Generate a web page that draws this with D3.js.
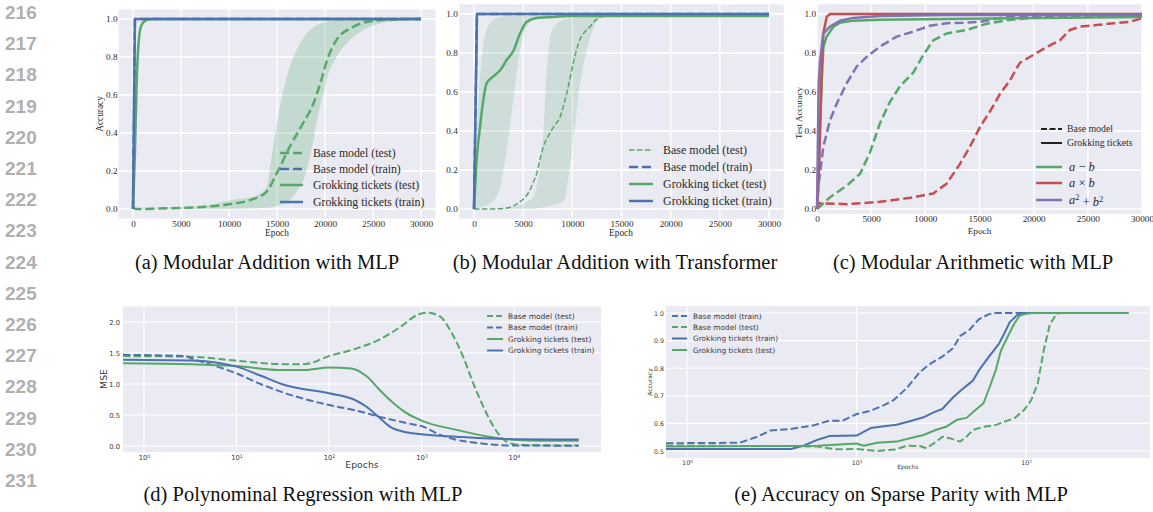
<!DOCTYPE html>
<html><head><meta charset="utf-8">
<script src="https://cdn.jsdelivr.net/npm/d3@7"></script>
<style>
body{margin:0;background:#fff;}
svg{display:block;}
</style></head><body>
<script>
// ---------- (a) Modular Addition with MLP : [epoch, accuracy] ----------
const aBaseTest = [[0,0.01],[300,0.0],[2500,0.002],[5000,0.006],[7500,0.012],[10000,0.025],[12200,0.047],[13900,0.09],[15000,0.19],[16350,0.33],[17700,0.45],[18800,0.556],[19500,0.66],[20200,0.78],[21200,0.89],[23000,0.96],[25000,0.99],[27500,0.998],[30000,1.0]];
// [epoch, low, high]
const aBaseTestBand = [[0,0,0.005],[7000,0,0.015],[10000,0,0.045],[12000,0.002,0.06],[13000,0.004,0.075],[13900,0.007,0.115],[14600,0.01,0.33],[15300,0.02,0.54],[16350,0.047,0.75],[17400,0.12,0.87],[17740,0.15,0.9],[18440,0.28,0.94],[18780,0.36,0.955],[19470,0.54,0.975],[19830,0.6,0.98],[20170,0.68,0.985],[21210,0.8,0.993],[22600,0.89,0.997],[24330,0.95,1.0],[26060,0.98,1.0],[28500,0.995,1.0],[30000,1.0,1.0]];
const aBaseTrain = [[0,0],[200,1.0],[30000,1.0]];
const aTicketTest = [[0,0],[200,0.3],[380,0.66],[625,0.9],[900,0.97],[1400,0.995],[2000,1.0],[30000,1.0]];
const aTicketTrain = [[0,0],[200,1.0],[30000,1.0]];

// ---------- (b) Modular Addition with Transformer ----------
const bBaseTest = [[0,0],[1500,0.0],[3000,0.003],[4000,0.015],[4680,0.037],[5200,0.06],[5690,0.097],[6050,0.14],[6370,0.18],[6700,0.25],[7050,0.32],[7400,0.36],[7730,0.39],[8200,0.43],[8740,0.47],[9100,0.53],[9420,0.59],[9800,0.68],[10100,0.75],[10450,0.82],[10780,0.87],[11300,0.91],[11800,0.935],[12300,0.965],[12820,0.985],[14000,0.99],[30000,0.99]];
const bBaseTestBand = [[0,0,0],[3000,0,0.003],[4680,0,0.02],[6030,0,0.063],[6370,0.003,0.12],[6710,0.006,0.217],[7050,0.01,0.388],[7320,0.012,0.644],[7660,0.015,0.85],[8070,0.02,0.93],[9080,0.04,0.97],[9760,0.217,0.98],[10170,0.39,0.985],[10780,0.64,0.988],[11460,0.81,0.99],[12140,0.93,0.99],[12990,0.985,0.99],[14000,0.99,0.99],[30000,0.99,0.99]];
const bBaseTrain = [[0,0],[300,1.0],[30000,1.0]];
const bTicketTest = [[0,0],[270,0.25],[610,0.42],[950,0.56],[1290,0.645],[1970,0.68],[2640,0.71],[3320,0.764],[4000,0.81],[4680,0.9],[5360,0.96],[6370,0.98],[8070,0.985],[9760,0.99],[30000,0.99]];
const bTicketTestBand = [[0,0,0],[100,0,0.05],[400,0.005,0.5],[750,0.01,0.76],[1080,0.015,0.88],[1290,0.02,0.92],[2270,0.06,0.98],[2640,0.11,0.985],[3320,0.3,0.99],[4000,0.56,0.99],[4680,0.815,0.99],[5360,0.935,0.99],[6370,0.98,0.99],[8070,0.99,0.99],[30000,0.99,0.99]];
const bTicketTrain = [[0,0],[300,1.0],[30000,1.0]];

// ---------- (c) Modular Arithmetic with MLP : test accuracy ----------
const cSubBase = [[0,0],[1200,0.06],[2740,0.12],[3970,0.18],[4890,0.29],[5810,0.44],[6740,0.55],[7660,0.63],[8890,0.7],[9810,0.79],[10730,0.865],[11960,0.9],[13800,0.918],[15650,0.95],[17500,0.968],[19650,0.98],[22730,0.985],[30000,0.988]];
const cMulBase = [[0,0],[150,0.03],[277,0.03],[2740,0.025],[5810,0.037],[8890,0.06],[10730,0.08],[11960,0.13],[13190,0.23],[14120,0.32],[15040,0.42],[15960,0.5],[16890,0.59],[17810,0.66],[18730,0.75],[19960,0.79],[21190,0.83],[22420,0.865],[23340,0.918],[24260,0.935],[25800,0.943],[27340,0.952],[28880,0.96],[30000,0.978]];
const cSqBase = [[0,0],[150,0.13],[277,0.18],[585,0.32],[1200,0.455],[1820,0.54],[2740,0.645],[3660,0.73],[4580,0.78],[5810,0.833],[7350,0.884],[8890,0.91],[10430,0.94],[11960,0.953],[13500,0.955],[15040,0.96],[16580,0.977],[18120,0.99],[30000,0.99]];
const cSubTicket = [[0,0],[150,0.2],[277,0.42],[430,0.64],[585,0.83],[893,0.885],[1510,0.935],[2120,0.955],[3350,0.966],[5810,0.97],[11960,0.975],[18120,0.978],[30000,0.985]];
const cMulTicket = [[0,0],[150,0.15],[277,0.39],[430,0.73],[585,0.9],[893,0.985],[1200,1.0],[30000,1.0]];
const cSqTicket = [[0,0],[150,0.64],[277,0.76],[585,0.9],[1200,0.935],[2120,0.965],[3350,0.98],[5810,0.99],[11960,0.995],[30000,0.995]];

// ---------- (d) Polynomial regression : [epoch, MSE] ----------
const dBaseTest = [[0,1.45],[3.16,1.44],[10,1.376],[31.6,1.32],[54,1.32],[100,1.45],[200,1.575],[355,1.72],[590,1.92],[890,2.11],[1150,2.15],[1585,2.09],[2040,1.87],[2820,1.44],[3630,1.01],[4680,0.63],[6030,0.31],[7760,0.1],[10000,0.03],[12600,0.015],[20000,0.01],[50000,0.01]];
const dBaseTrain = [[0,1.47],[2.8,1.45],[3.16,1.42],[6.2,1.28],[10,1.17],[17.5,1.01],[34,0.85],[100,0.66],[200,0.57],[355,0.47],[690,0.37],[1050,0.31],[1480,0.2],[2400,0.1],[4000,0.05],[8300,0.01],[50000,0.005]];
const dTicketTest = [[0,1.335],[3.16,1.32],[10,1.29],[31.6,1.225],[54,1.225],[100,1.265],[174,1.25],[257,1.12],[355,0.9],[500,0.69],[690,0.53],[1000,0.41],[2400,0.26],[5400,0.15],[10000,0.1],[20000,0.085],[50000,0.085]];
const dTicketTrain = [[0,1.39],[3.16,1.38],[10,1.28],[17.5,1.145],[34,0.98],[100,0.85],[186,0.75],[257,0.63],[355,0.45],[460,0.31],[640,0.23],[1000,0.19],[2400,0.15],[5400,0.12],[10000,0.11],[50000,0.105]];

// ---------- (e) Sparse parity : [epoch, accuracy] ----------
const eBaseTrain = [[0,0.528],[2.05,0.53],[2.6,0.552],[3.1,0.574],[4.1,0.58],[5.5,0.592],[6.9,0.61],[8.3,0.61],[10,0.634],[12.1,0.646],[14.5,0.666],[16.5,0.684],[19.6,0.726],[23.6,0.786],[27,0.815],[32,0.842],[37,0.872],[40.7,0.916],[46.5,0.94],[52.5,0.977],[60,0.995],[66,1.0],[400,1.0]];
const eBaseTest = [[0,0.519],[4.4,0.518],[5.9,0.516],[7.6,0.506],[10,0.507],[13.2,0.5],[17.2,0.506],[19.6,0.519],[23.6,0.518],[25.8,0.51],[29.5,0.534],[32,0.552],[35.5,0.546],[40.7,0.534],[44.5,0.552],[48.5,0.576],[56,0.588],[66,0.594],[74,0.606],[85,0.618],[97,0.648],[107,0.684],[117,0.745],[127,0.866],[138,0.96],[151,0.997],[160,1.0],[400,1.0]];
const eTicketTrain = [[0,0.507],[4.1,0.507],[4.9,0.52],[5.9,0.541],[6.9,0.554],[10,0.556],[12.1,0.583],[14.5,0.59],[17.2,0.595],[20.6,0.608],[24.8,0.622],[28.4,0.64],[32,0.652],[37,0.694],[42.6,0.727],[48.5,0.755],[52.5,0.791],[60,0.84],[69,0.888],[74,0.924],[80,0.967],[88,0.991],[97,1.0],[400,1.0]];
const eTicketTest = [[0,0.516],[5.9,0.519],[10,0.527],[11,0.519],[13.2,0.53],[17.2,0.534],[20.6,0.546],[24.8,0.558],[29.5,0.577],[34,0.589],[39,0.613],[44.5,0.62],[50,0.648],[56,0.673],[60,0.721],[66,0.791],[71,0.864],[77.6,0.913],[85,0.961],[91.6,0.991],[100,0.997],[110,1.0],[400,1.0]];

// ---------- tick values ----------
const linEpochTicks = [0,5000,10000,15000,20000,25000,30000];
const accTicks = [0,0.2,0.4,0.6,0.8,1.0];
const mseTicks = [0,0.5,1.0,1.5,2.0];
const logTicksD = [1,10,100,1000,10000];
const parityTicks = [0.5,0.6,0.7,0.8,0.9,1.0];
const logTicksE = [1,10,100];

// ---------- captions and page line numbers ----------
const captions = ["(a) Modular Addition with MLP","(b) Modular Addition with Transformer","(c) Modular Arithmetic with MLP","(d) Polynominal Regression with MLP","(e) Accuracy on Sparse Parity with MLP"];
const lineNumbers = d3.range(216,232);

const W = 1153, H = 512;
const svg = d3.select("body").append("svg").attr("width", W).attr("height", H);

const COL = {blue:"#4C72B0", green:"#55A868", red:"#C44E52", purple:"#8172B2"};
const BG = "#EAEAF2";
const SERIF = "'Liberation Serif','Times New Roman',serif";
const SANS = "'DejaVu Sans','Liberation Sans',sans-serif";

function supFmt(sel){
  sel.each(function(d){
    const t = d3.select(this);
    t.text("10");
    t.append("tspan").attr("dy","-0.45em").attr("font-size","70%").text(Math.round(Math.log10(d)));
  });
}

function drawFrame(g, x, y, o){
  const [x0,x1] = x.range(), [y0,y1] = y.range();
  g.append("rect").attr("x",x0).attr("y",y1).attr("width",x1-x0).attr("height",y0-y1).attr("fill",BG);
  g.append("g").selectAll("line").data(o.xTicks).join("line")
    .attr("x1",d=>x(d)).attr("x2",d=>x(d)).attr("y1",y1).attr("y2",y0)
    .attr("stroke","#fff").attr("stroke-width",o.gridW);
  g.append("g").selectAll("line").data(o.yTicks).join("line")
    .attr("y1",d=>y(d)).attr("y2",d=>y(d)).attr("x1",x0).attr("x2",x1)
    .attr("stroke","#fff").attr("stroke-width",o.gridW);
  const ax = g.append("g").attr("transform",`translate(0,${y0})`)
    .call(d3.axisBottom(x).tickValues(o.xTicks).tickSize(0).tickPadding(o.xPad).tickFormat(o.xFmt || (d=>d)));
  ax.select(".domain").remove();
  ax.selectAll("text").attr("font-family",o.font).attr("font-size",o.tick).attr("fill",o.tickColor);
  if (o.logX) ax.selectAll(".tick text").call(supFmt);
  const ay = g.append("g").attr("transform",`translate(${x0},0)`)
    .call(d3.axisLeft(y).tickValues(o.yTicks).tickSize(0).tickPadding(o.yPad).tickFormat(d3.format(".1f")));
  ay.select(".domain").remove();
  ay.selectAll("text").attr("font-family",o.font).attr("font-size",o.tick).attr("fill",o.tickColor);
  if (o.xLabel) g.append("text").attr("x",o.xLabel[1]).attr("y",o.xLabel[2]).attr("text-anchor","middle")
    .attr("font-family",o.font).attr("font-size",o.label).attr("fill",o.tickColor).text(o.xLabel[0]);
  if (o.yLabel) g.append("text").attr("transform",`translate(${o.yLabel[1]},${o.yLabel[2]}) rotate(-90)`).attr("text-anchor","middle")
    .attr("font-family",o.font).attr("font-size",o.label).attr("fill",o.tickColor).text(o.yLabel[0]);
}

function drawLine(g, x, y, data, s){
  const line = d3.line().x(d=>x(d[0])).y(d=>y(d[1])).curve(s.curve || d3.curveLinear);
  g.append("path").datum(data).attr("d",line).attr("fill","none")
    .attr("stroke",s.color).attr("stroke-width",s.lw)
    .attr("stroke-dasharray",s.dash ? s.dash.join(",") : null)
    .attr("stroke-linejoin","round");
}

function drawBand(g, x, y, data, color, op){
  const area = d3.area().x(d=>x(d[0])).y0(d=>y(d[1])).y1(d=>y(d[2])).curve(d3.curveMonotoneX);
  g.append("path").datum(data).attr("d",area).attr("fill",color).attr("fill-opacity",op).attr("stroke","none");
}

function drawLegend(g, items, o){
  items.forEach((it,i)=>{
    const yy = o.ys[i];
    g.append("line").attr("x1",o.hx0).attr("x2",o.hx1).attr("y1",yy).attr("y2",yy)
      .attr("stroke",it.color).attr("stroke-width",it.lw)
      .attr("stroke-dasharray",it.dash ? it.dash.join(",") : null);
    const t = g.append("text").attr("x",o.tx).attr("y",yy).attr("dy","0.35em")
      .attr("font-family",o.font).attr("font-size",it.size || o.size).attr("fill",o.color);
    if (Array.isArray(it.label)) {
      it.label.forEach(seg=>{
        const ts = t.append("tspan").text(seg.t);
        if (seg.it) ts.attr("font-style","italic");
        if (seg.sup) ts.attr("font-size","68%").attr("dy","-0.5em");
        if (seg.down) ts.attr("dy","0.5em");
      });
    } else t.text(it.label);
  });
}

const dashL = [9,4], dashS = [5.5,2.4], dashM = [7.4,3.2];

// ===== (a) =====
{
  const g = svg.append("g");
  const x = d3.scaleLinear().domain([-1500,31500]).range([118.6,435.4]);
  const y = d3.scaleLinear().domain([-0.05,1.05]).range([218.5,9.5]);
  drawFrame(g,x,y,{xTicks:linEpochTicks,yTicks:accTicks,gridW:1.4,xPad:2,yPad:1,font:SERIF,tick:9.2,label:9.3,tickColor:"#2a2a2a",
    xLabel:["Epoch",277,235.5], yLabel:["Accuracy",103,114]});
  drawBand(g,x,y,aBaseTestBand,COL.green,0.25);
  drawLine(g,x,y,aBaseTest,{color:COL.green,lw:2.5,dash:dashL,curve:d3.curveMonotoneX});
  drawLine(g,x,y,aBaseTrain,{color:COL.blue,lw:2.5,dash:dashL});
  drawLine(g,x,y,aTicketTest,{color:COL.green,lw:2.5,curve:d3.curveMonotoneX});
  drawLine(g,x,y,aTicketTrain,{color:COL.blue,lw:2.5});
  drawLegend(g,[
    {label:"Base model (test)",color:COL.green,lw:2.5,dash:dashL},
    {label:"Base model (train)",color:COL.blue,lw:2.5,dash:dashL},
    {label:"Grokking tickets (test)",color:COL.green,lw:2.5},
    {label:"Grokking tickets (train)",color:COL.blue,lw:2.5}
  ],{hx0:280,hx1:303,tx:313,ys:[153,169,185,202],font:SERIF,size:11.8,color:"#2a2a2a"});
}

// ===== (b) =====
{
  const g = svg.append("g");
  const x = d3.scaleLinear().domain([-1500,31500]).range([459.25,783.75]);
  const y = d3.scaleLinear().domain([-0.05,1.05]).range([218.75,4.25]);
  drawFrame(g,x,y,{xTicks:linEpochTicks,yTicks:accTicks,gridW:1.4,xPad:2,yPad:1.5,font:SERIF,tick:9.2,label:9.3,tickColor:"#2a2a2a",
    xLabel:["Epoch",621,235.5]});
  drawBand(g,x,y,bBaseTestBand,COL.green,0.18);
  drawBand(g,x,y,bTicketTestBand,COL.green,0.18);
  drawLine(g,x,y,bBaseTest,{color:COL.green,lw:1.5,dash:dashS,curve:d3.curveMonotoneX});
  drawLine(g,x,y,bBaseTrain,{color:COL.blue,lw:2.5,dash:dashL});
  drawLine(g,x,y,bTicketTest,{color:COL.green,lw:2.5,curve:d3.curveMonotoneX});
  drawLine(g,x,y,bTicketTrain,{color:COL.blue,lw:2.5});
  drawLegend(g,[
    {label:"Base model (test)",color:COL.green,lw:1.5,dash:dashS},
    {label:"Base model (train)",color:COL.blue,lw:2.5,dash:dashL},
    {label:"Grokking ticket (test)",color:COL.green,lw:2.5},
    {label:"Grokking ticket (train)",color:COL.blue,lw:2.5}
  ],{hx0:629,hx1:653,tx:663,ys:[150,167,184,201],font:SERIF,size:12,color:"#2a2a2a"});
}

// ===== (c) =====
{
  const g = svg.append("g");
  const x = d3.scaleLinear().domain([0,30000]).range([817,1142]);
  const y = d3.scaleLinear().domain([-0.025,1.05]).range([213.9,4.25]);
  drawFrame(g,x,y,{xTicks:linEpochTicks,yTicks:accTicks,gridW:1.4,xPad:2,yPad:1,font:SERIF,tick:9.2,label:9.2,tickColor:"#2a2a2a",
    xLabel:["Epoch",979.5,233.5], yLabel:["Test Accuracy",801.5,113]});
  drawLine(g,x,y,cSubBase,{color:COL.green,lw:2.5,dash:dashL});
  drawLine(g,x,y,cMulBase,{color:COL.red,lw:2.5,dash:dashL});
  drawLine(g,x,y,cSqBase,{color:COL.purple,lw:2.5,dash:dashL});
  drawLine(g,x,y,cSubTicket,{color:COL.green,lw:2.5});
  drawLine(g,x,y,cMulTicket,{color:COL.red,lw:2.5});
  drawLine(g,x,y,cSqTicket,{color:COL.purple,lw:2.5});
  drawLegend(g,[
    {label:"Base model",color:"#222",lw:2,dash:[6,2.5]},
    {label:"Grokking tickets",color:"#222",lw:2}
  ],{hx0:1041,hx1:1062,tx:1067,ys:[129,143],font:SERIF,size:9.8,color:"#2a2a2a"});
  drawLegend(g,[
    {label:[{t:"a",it:true},{t:" − "},{t:"b",it:true}],color:COL.green,lw:2.5},
    {label:[{t:"a",it:true},{t:" × "},{t:"b",it:true}],color:COL.red,lw:2.5},
    {label:[{t:"a",it:true},{t:"2",sup:true},{t:" + ",down:true},{t:"b",it:true},{t:"2",sup:true}],color:COL.purple,lw:2.5}
  ],{hx0:1036,hx1:1062,tx:1069,ys:[167,183,200],font:SERIF,size:12.5,color:"#2a2a2a"});
}

// ===== (d) =====
{
  const g = svg.append("g");
  const x = d3.scaleLog().domain([Math.pow(10,-0.227),Math.pow(10,4.941)]).range([123,601]).clamp(true);
  const y = d3.scaleLinear().domain([-0.1,2.25]).range([452.2,306.5]);
  drawFrame(g,x,y,{xTicks:logTicksD,yTicks:mseTicks,gridW:1.1,xPad:3,yPad:3,font:SANS,tick:6.8,label:9.3,tickColor:"#3a3a3a",
    logX:true, xLabel:["Epochs",362,467.5], yLabel:["MSE",107,379]});
  const cm = d3.curveMonotoneX;
  drawLine(g,x,y,dBaseTest,{color:COL.green,lw:2,dash:dashM,curve:cm});
  drawLine(g,x,y,dBaseTrain,{color:COL.blue,lw:2,dash:dashM,curve:cm});
  drawLine(g,x,y,dTicketTest,{color:COL.green,lw:2,curve:cm});
  drawLine(g,x,y,dTicketTrain,{color:COL.blue,lw:2,curve:cm});
  drawLegend(g,[
    {label:"Base model (test)",color:COL.green,lw:2,dash:[6,3]},
    {label:"Base model (train)",color:COL.blue,lw:2,dash:[6,3]},
    {label:"Grokking tickets (test)",color:COL.green,lw:2},
    {label:"Grokking tickets (train)",color:COL.blue,lw:2}
  ],{hx0:487,hx1:503,tx:508,ys:[316,327.5,339,350.5],font:SANS,size:7.5,color:"#3a3a3a"});
}

// ===== (e) =====
{
  const g = svg.append("g");
  const x = d3.scaleLog().domain([Math.pow(10,-0.124),Math.pow(10,2.73)]).range([666,1150]).clamp(true);
  const y = d3.scaleLinear().domain([0.475,1.025]).range([457.9,306.1]);
  drawFrame(g,x,y,{xTicks:logTicksE,yTicks:parityTicks,gridW:1.1,xPad:2.5,yPad:2,font:SANS,tick:6.3,label:6,tickColor:"#3a3a3a",
    logX:true, xLabel:["Epochs",908,468.5], yLabel:["Accuracy",651.5,382]});
  drawLine(g,x,y,eBaseTrain,{color:COL.blue,lw:2,dash:dashM});
  drawLine(g,x,y,eBaseTest,{color:COL.green,lw:2,dash:dashM});
  drawLine(g,x,y,eTicketTrain,{color:COL.blue,lw:2});
  drawLine(g,x,y,eTicketTest,{color:COL.green,lw:2});
  drawLegend(g,[
    {label:"Base model (train)",color:COL.blue,lw:2,dash:[6,3]},
    {label:"Base model (test)",color:COL.green,lw:2,dash:[6,3]},
    {label:"Grokking tickets (train)",color:COL.blue,lw:2},
    {label:"Grokking tickets (test)",color:COL.green,lw:2}
  ],{hx0:672,hx1:687,tx:693,ys:[316,327,338.5,350],font:SANS,size:7.4,color:"#3a3a3a"});
}

// ===== captions =====
const capPos = [[267,268.5],[615,268.5],[973,268.5],[303,500.5],[901,500.5]];
svg.append("g").selectAll("text").data(captions).join("text")
  .attr("x",(d,i)=>capPos[i][0]).attr("y",(d,i)=>capPos[i][1]).attr("text-anchor","middle")
  .attr("font-family",SERIF).attr("font-size",20.5).attr("fill","#111").text(d=>d);

// ===== line numbers =====
svg.append("g").selectAll("text").data(lineNumbers).join("text")
  .attr("x",5).attr("y",(d,i)=>19+i*31.2)
  .attr("font-family","'Liberation Sans',Arial,sans-serif").attr("font-weight","bold")
  .attr("font-size",19).attr("fill","#b0b0b0").text(d=>d);
</script>
</body></html>
